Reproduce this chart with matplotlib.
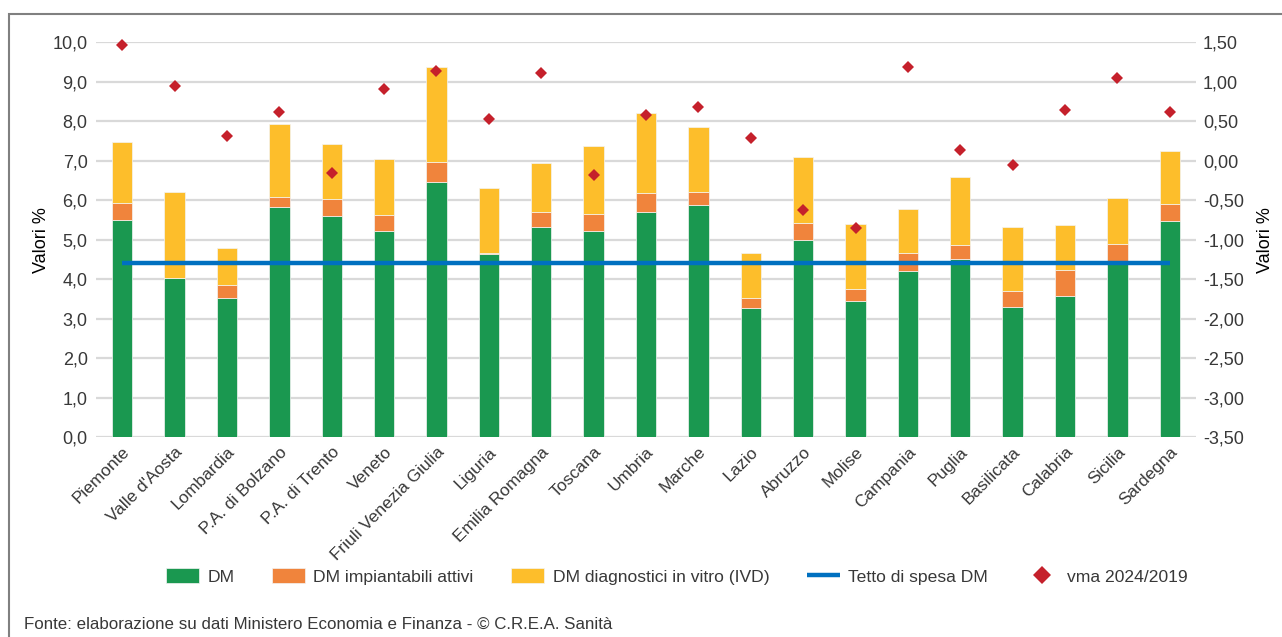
import numpy as np
import matplotlib
matplotlib.use('Agg')
import matplotlib.pyplot as plt
from matplotlib.patches import Rectangle
from matplotlib.ticker import FuncFormatter

regioni = ['Piemonte', "Valle d'Aosta", 'Lombardia', 'P.A. di Bolzano', 'P.A. di Trento',
           'Veneto', 'Friuli Venezia Giulia', 'Liguria', 'Emilia Romagna', 'Toscana',
           'Umbria', 'Marche', 'Lazio', 'Abruzzo', 'Molise', 'Campania', 'Puglia',
           'Basilicata', 'Calabria', 'Sicilia', 'Sardegna']

# quota % sulla spesa (asse sinistro)
dm = [5.50, 4.02, 3.53, 5.82, 5.60, 5.21, 6.45, 4.65, 5.33, 5.23, 5.69,
      5.88, 3.28, 4.98, 3.45, 4.22, 4.50, 3.29, 3.58, 4.42, 5.47]
dm_impiantabili = [0.44, 0.00, 0.33, 0.27, 0.44, 0.42, 0.52, 0.02, 0.37, 0.41, 0.49,
                   0.33, 0.25, 0.44, 0.30, 0.45, 0.37, 0.40, 0.66, 0.48, 0.44]
dm_ivd = [1.53, 2.18, 0.92, 1.84, 1.37, 1.42, 2.40, 1.64, 1.24, 1.72, 2.02,
          1.65, 1.14, 1.67, 1.64, 1.10, 1.72, 1.64, 1.12, 1.15, 1.34]
tetto_dm = 4.4

# variazione media annua 2024/2019 (asse destro)
vma = [1.46, 0.95, 0.31, 0.61, -0.155, 0.91, 1.14, 0.53, 1.11, -0.18, 0.58,
       0.68, 0.285, -0.62, -0.85, 1.18, 0.13, -0.06, 0.64, 1.05, 0.61]

C_DM = '#1a9850'
C_IMP = '#f0843c'
C_IVD = '#fdbe2b'
C_TETTO = '#0070c0'
C_VMA = '#c5202b'
TXT = '#383838'

plt.rcParams['font.family'] = ['Liberation Sans', 'DejaVu Sans']
plt.rcParams['text.color'] = TXT

fig = plt.figure(figsize=(12.82, 6.37), dpi=100)
ax = fig.add_axes([0.0749, 0.3135, 0.858, 0.6205])
ax2 = ax.twinx()

x = np.arange(len(regioni))
w = 0.39
b1 = np.array(dm)
b2 = b1 + np.array(dm_impiantabili)
ax.bar(x, dm, w, color=C_DM, edgecolor='#f4f4f4', linewidth=0.5, label='DM', zorder=2)
ax.bar(x, dm_impiantabili, w, bottom=b1, color=C_IMP, edgecolor='#f4f4f4', linewidth=0.5,
       label='DM impiantabili attivi', zorder=2)
ax.bar(x, dm_ivd, w, bottom=b2, color=C_IVD, edgecolor='#f4f4f4', linewidth=0.5,
       label='DM diagnostici in vitro (IVD)', zorder=2)
ax.plot(x, np.full(len(x), tetto_dm), color=C_TETTO, linewidth=3.2,
        solid_capstyle='butt', label='Tetto di spesa DM', zorder=3)

ax2.plot(x, vma, linestyle='none', marker='D', markersize=6.3, markeredgewidth=0,
         color=C_VMA, label='vma 2024/2019', zorder=4, clip_on=False)

ax.set_xlim(-0.5, 20.5)
ax.set_ylim(0, 10)
ax.set_yticks(np.arange(0, 10.01, 1))
ax2.set_ylim(-3.5, 1.5)
ax2.set_yticks(np.arange(-3.5, 1.51, 0.5))

ax.yaxis.set_major_formatter(FuncFormatter(lambda v, p: f'{v:.1f}'.replace('.', ',')))
ax2.yaxis.set_major_formatter(FuncFormatter(lambda v, p: f'{v:.2f}'.replace('.', ',')))

ax.grid(axis='y', color='#d9d9d9', linewidth=1.6)
ax.set_axisbelow(True)
for a in (ax, ax2):
    for s in a.spines.values():
        s.set_visible(False)

ax.set_xticks(x)
ax.set_xticklabels(regioni, rotation=45, ha='right', rotation_mode='anchor')
ax.tick_params(axis='x', length=0, pad=5, labelsize=12.4, labelcolor=TXT)
ax.tick_params(axis='y', length=0, pad=6, labelsize=13, labelcolor=TXT)
ax2.tick_params(axis='y', length=0, pad=5, labelsize=13, labelcolor=TXT)

ax.set_ylabel('Valori %', fontsize=13, labelpad=2)
ax2.set_ylabel('Valori %', fontsize=13, labelpad=9.5)

h1, l1 = ax.get_legend_handles_labels()
h2, l2 = ax2.get_legend_handles_labels()
order = [1, 2, 3, 0]
handles = [h1[i] for i in order] + h2
labels = [l1[i] for i in order] + l2
fig.legend(handles, labels, ncol=5, loc='center', bbox_to_anchor=(0.528, 0.095),
           frameon=False, fontsize=12.6, handlelength=1.9, handleheight=0.86,
           handletextpad=0.46, columnspacing=2.15, markerscale=1.4)

fig.text(24 / 1282, 1 - 629 / 637,
         'Fonte: elaborazione su dati Ministero Economia e Finanza - © C.R.E.A. Sanità',
         fontsize=12.2, va='baseline', ha='left')

# cornice esterna
fig.patches.append(Rectangle((8.5 / 1282, -0.1), 1.2, 1 - 14 / 637 + 0.1,
                             transform=fig.transFigure, fill=False,
                             edgecolor='#808080', linewidth=1.5))

fig.savefig('out.png', dpi=100)
